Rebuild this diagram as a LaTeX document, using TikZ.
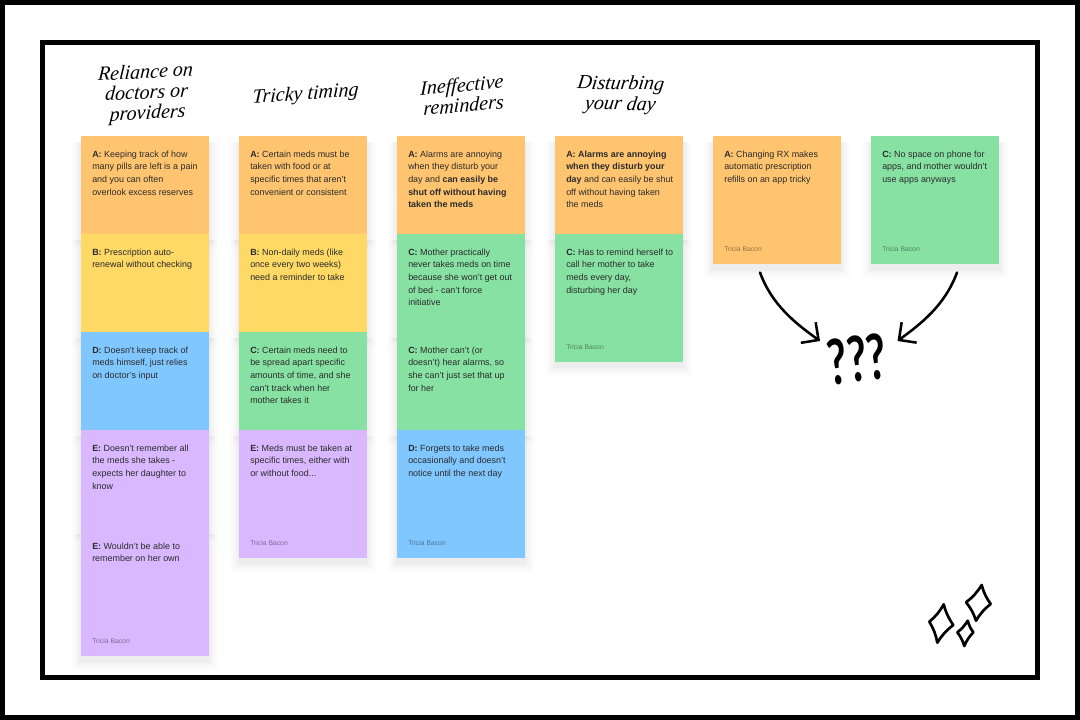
\documentclass[tikz,border=0pt]{standalone}
\usepackage{fontspec}
\usetikzlibrary{arrows.meta,backgrounds}
\setmainfont{Liberation Sans}
\newfontfamily\handfont[FakeSlant=0.12]{Liberation Serif Italic}
\newfontfamily\qmfont{Lato Bold}
\definecolor{cOrange}{HTML}{FFC46F}
\definecolor{cYellow}{HTML}{FFD966}
\definecolor{cGreen}{HTML}{86E1A3}
\definecolor{cBlue}{HTML}{80C7FF}
\definecolor{cPurple}{HTML}{D9B8FF}
\definecolor{cInk}{HTML}{2A2A2A}
\tikzset{
  framebox/.style={draw=black,line width=3.75pt,fill=none},
  sticky/.style={anchor=north west,minimum width=96pt,inner sep=0pt,outer sep=0pt,draw=none},
  stickytext/.style={anchor=north west,inner sep=0pt,align=left,text=cInk,
    font=\fontsize{6.7pt}{9.45pt}\selectfont},
  byline/.style={anchor=west,inner sep=0pt,text=black,text opacity=.42,font=\fontsize{5.1pt}{6pt}\selectfont},
  title/.style={align=center,inner sep=0pt,text=black,font=\handfont\fontsize{15pt}{15.3pt}\selectfont},
  inkarrow/.style={draw=black,line width=1.9pt,line cap=round,-{Straight Barb[length=9.5pt,width=19pt,line width=1.9pt]}},
  sparkle/.style={draw=black,line width=2pt,line join=round,fill=none}
}
\newcommand{\card}[6]{%
  \node[sticky,fill=#5,minimum height=#4*0.75pt] (#1) at (#2,#3) {};
  \begin{pgfonlayer}{background}
    \foreach \s in {1,...,12}{
      \pgfmathsetmacro{\shop}{.012*(1-\s/13)}
      \fill[black,opacity=\shop] ({#2-\s},{#3+6}) rectangle ({#2+128+\s},{#3+#4+5+\s});
    }
  \end{pgfonlayer}
  \node[stickytext] (#1t) at (#2+11,#3+14.5) {#6};
}
\newcommand{\signed}[1]{\node[byline] (#1a) at ([xshift=8.25pt,yshift=11.25pt]#1.south west) {Tricia Bacon};}
\newcommand{\spark}[4]{\draw[sparkle] (#1) to[bend right=10] (#2) to[bend right=10] (#3) to[bend right=10] (#4) to[bend right=10] cycle;}
\begin{document}
\begin{tikzpicture}[x=0.75pt,y=-0.75pt]
\useasboundingbox (0,0) rectangle (1080,720);
\begin{pgfonlayer}{background}
  \fill[white] (0,0) rectangle (1080,720);
\end{pgfonlayer}
\draw[framebox] (2.5,2.5) rectangle (1077.5,717.5);
\draw[framebox] (42.5,42.5) rectangle (1037.5,677.5);

\node[title,rotate=3] (h1) at (146,94) {Reliance on\\doctors or\\providers};
\node[title,rotate=4] (h2) at (305,95) {Tricky timing};
\node[title,rotate=5] (h3) at (462,95) {Ineffective\\reminders};
\node[title,rotate=-1] (h4) at (620,95) {Disturbing\\your day};

% column 1
\card{aa}{81}{136}{98}{cOrange}{\textbf{A:} Keeping track of how\\many pills are left is a pain\\and you can often\\overlook excess reserves}
\card{ab}{81}{234}{98}{cYellow}{\textbf{B:} Prescription auto-\\renewal without checking}
\card{ac}{81}{332}{98}{cBlue}{\textbf{D:} Doesn't keep track of\\meds himself, just relies\\on doctor's input}
\card{ad}{81}{430}{98}{cPurple}{\textbf{E:} Doesn't remember all\\the meds she takes -\\expects her daughter to\\know}
\card{ae}{81}{528}{128}{cPurple}{\textbf{E:} Wouldn't be able to\\remember on her own}
\signed{ae}
% column 2
\card{ba}{239}{136}{98}{cOrange}{\textbf{A:} Certain meds must be\\taken with food or at\\specific times that aren't\\convenient or consistent}
\card{bb}{239}{234}{98}{cYellow}{\textbf{B:} Non-daily meds (like\\once every two weeks)\\need a reminder to take}
\card{bc}{239}{332}{98}{cGreen}{\textbf{C:} Certain meds need to\\be spread apart specific\\amounts of time, and she\\can't track when her\\mother takes it}
\card{bd}{239}{430}{128}{cPurple}{\textbf{E:} Meds must be taken at\\specific times, either with\\or without food...}
\signed{bd}
% column 3
\card{ca}{397}{136}{98}{cOrange}{\textbf{A:} Alarms are annoying\\when they disturb your\\day and \textbf{can easily be}\\\textbf{shut off without having}\\\textbf{taken the meds}}
\card{cb}{397}{234}{98}{cGreen}{\textbf{C:} Mother practically\\never takes meds on time\\because she won't get out\\of bed - can't force\\initiative}
\card{cc}{397}{332}{98}{cGreen}{\textbf{C:} Mother can't (or\\doesn't) hear alarms, so\\she can't just set that up\\for her}
\card{cd}{397}{430}{128}{cBlue}{\textbf{D:} Forgets to take meds\\occasionally and doesn't\\notice until the next day}
\signed{cd}
% column 4
\card{da}{555}{136}{98}{cOrange}{\textbf{A: Alarms are annoying}\\\textbf{when they disturb your}\\\textbf{day} and can easily be shut\\off without having taken\\the meds}
\card{db}{555}{234}{128}{cGreen}{\textbf{C:} Has to remind herself to\\call her mother to take\\meds every day,\\disturbing her day}
\signed{db}
% singles
\card{ea}{713}{136}{128}{cOrange}{\textbf{A:} Changing RX makes\\automatic prescription\\refills on an app tricky}
\signed{ea}
\card{fa}{871}{136}{128}{cGreen}{\textbf{C:} No space on phone for\\apps, and mother wouldn't\\use apps anyways}
\signed{fa}

% question marks and arrows
\node[inner sep=0pt,text=black] (qm) at (857,359) {\rotatebox{7}{\scalebox{.68}[1]{\qmfont\fontsize{47pt}{47pt}\selectfont ???}}};
\coordinate (s1) at (760,272.5);
\coordinate (e1) at (820,341);
\coordinate (s2) at (957,272.5);
\coordinate (e2) at (897.5,341);
\draw[inkarrow] (s1) .. controls (772,305) and (795,323) .. (e1);
\draw[inkarrow] (s2) .. controls (945,305) and (922,323) .. (e2);

% sparkles
\coordinate (p1) at (943.7,604.3); \coordinate (p2) at (953.3,625); \coordinate (p3) at (937.3,642.7); \coordinate (p4) at (929.3,621.7);
\coordinate (q1) at (981.7,585); \coordinate (q2) at (990.7,604); \coordinate (q3) at (976,620.7); \coordinate (q4) at (966,602.3);
\coordinate (r1) at (967.7,620.7); \coordinate (r2) at (973.3,632.3); \coordinate (r3) at (964.3,646); \coordinate (r4) at (957.3,632.3);
\spark{p1}{p2}{p3}{p4}
\spark{q1}{q2}{q3}{q4}
\spark{r1}{r2}{r3}{r4}
\end{tikzpicture}
\end{document}
